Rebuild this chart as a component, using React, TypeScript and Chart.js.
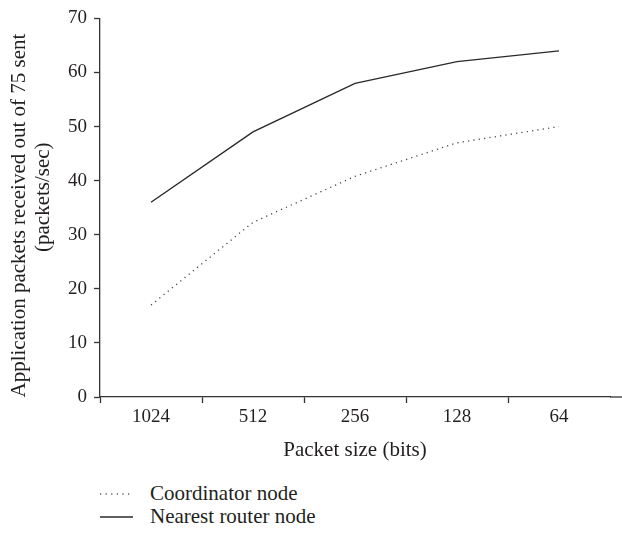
import React, { useEffect, useRef } from "react";
import { Chart, registerables } from "chart.js";

Chart.register(...registerables);

const categories = ["1024", "512", "256", "128", "64"];
const coordinatorNode = [17, 32.3, 40.8, 47, 50];
const nearestRouterNode = [36, 49, 58, 62, 64];
const seriesNames = ["Coordinator node", "Nearest router node"];
const yTitle = ["Application packets received out of 75 sent   ", "    (packets/sec)"];
const xTitle = "Packet size (bits)";

const FONT = "'Liberation Serif', 'Times New Roman', serif";
const INK = "#231f20";

const extendAxis = {
  id: "extendAxis",
  afterDraw(chart: any) {
    const { ctx, chartArea } = chart;
    ctx.save();
    ctx.strokeStyle = "#333";
    ctx.lineWidth = 1.3;
    ctx.beginPath();
    ctx.moveTo(chartArea.right, chartArea.bottom);
    ctx.lineTo(chart.width, chartArea.bottom);
    ctx.stroke();
    ctx.restore();
  },
};

const isRealTick = (c: any) =>
  c && c.type === "tick" && c.tick && typeof c.index === "number" && c.index < categories.length;

export default function App() {
  const ref = useRef<HTMLCanvasElement>(null);

  useEffect(() => {
    document.body.style.margin = "0";
    const chart = new Chart(ref.current as HTMLCanvasElement, {
      type: "line",
      data: {
        labels: categories,
        datasets: [
          {
            label: seriesNames[0],
            data: coordinatorNode,
            borderColor: "#444",
            borderWidth: 1.3,
            borderDash: [1.2, 4.2],
            pointRadius: 0,
            tension: 0,
            fill: false,
          },
          {
            label: seriesNames[1],
            data: nearestRouterNode,
            borderColor: "#2a2a2a",
            borderWidth: 1.4,
            pointRadius: 0,
            tension: 0,
            fill: false,
          },
        ],
      },
      options: {
        animation: false,
        responsive: false,
        layout: { padding: { top: 18, right: 12, bottom: 0, left: 0 } },
        plugins: {
          legend: { display: false },
          tooltip: { enabled: false },
        },
        scales: {
          x: {
            type: "category",
            offset: true,
            grid: {
              offset: true,
              drawOnChartArea: false,
              drawTicks: true,
              tickLength: 6,
              tickWidth: (c: any) => (isRealTick(c) ? 1.3 : 0),
              tickColor: (c: any) => (isRealTick(c) ? "#333" : "rgba(0,0,0,0)"),
            },
            border: { display: true, color: "#333", width: 1.3 },
            ticks: { color: INK, font: { family: FONT, size: 19 }, padding: 3 },
            title: {
              display: true,
              text: xTitle,
              color: INK,
              font: { family: FONT, size: 21 },
              padding: { top: 0, bottom: 7 },
            },
            afterFit: (s: any) => {
              s.height = 73;
            },
          },
          y: {
            min: 0,
            max: 70,
            ticks: { stepSize: 10, color: INK, font: { family: FONT, size: 19 }, padding: 7 },
            grid: {
              drawOnChartArea: false,
              drawTicks: true,
              tickLength: 6,
              tickWidth: 1.3,
              tickColor: "#333",
            },
            border: { display: true, color: "#333", width: 1.3 },
            title: {
              display: true,
              text: yTitle,
              color: INK,
              font: { family: FONT, size: 21, lineHeight: 1.15 },
              padding: { top: 7, bottom: 0 },
            },
            afterFit: (s: any) => {
              s.width = 100;
            },
          },
        },
      },
      plugins: [extendAxis],
    });
    return () => chart.destroy();
  }, []);

  const legendRow = (name: string, dotted: boolean) => (
    <div key={name} style={{ display: "flex", alignItems: "center", height: 23 }}>
      <svg width={33} height={4} style={{ marginRight: 17, display: "block" }}>
        <line
          x1={0}
          y1={2}
          x2={33}
          y2={2}
          stroke={dotted ? "#555" : "#2a2a2a"}
          strokeWidth={dotted ? 1.3 : 1.4}
          strokeDasharray={dotted ? "1.2 4.4" : undefined}
        />
      </svg>
      <span style={{ fontFamily: FONT, fontSize: 21, color: INK, lineHeight: "23px" }}>{name}</span>
    </div>
  );

  return (
    <div style={{ position: "relative", width: 622, height: 533, background: "#fff" }}>
      <canvas ref={ref} width={622} height={470} style={{ position: "absolute", left: 0, top: 0 }} />
      <div style={{ position: "absolute", left: 100, top: 482 }}>
        {legendRow(seriesNames[0], true)}
        {legendRow(seriesNames[1], false)}
      </div>
    </div>
  );
}
